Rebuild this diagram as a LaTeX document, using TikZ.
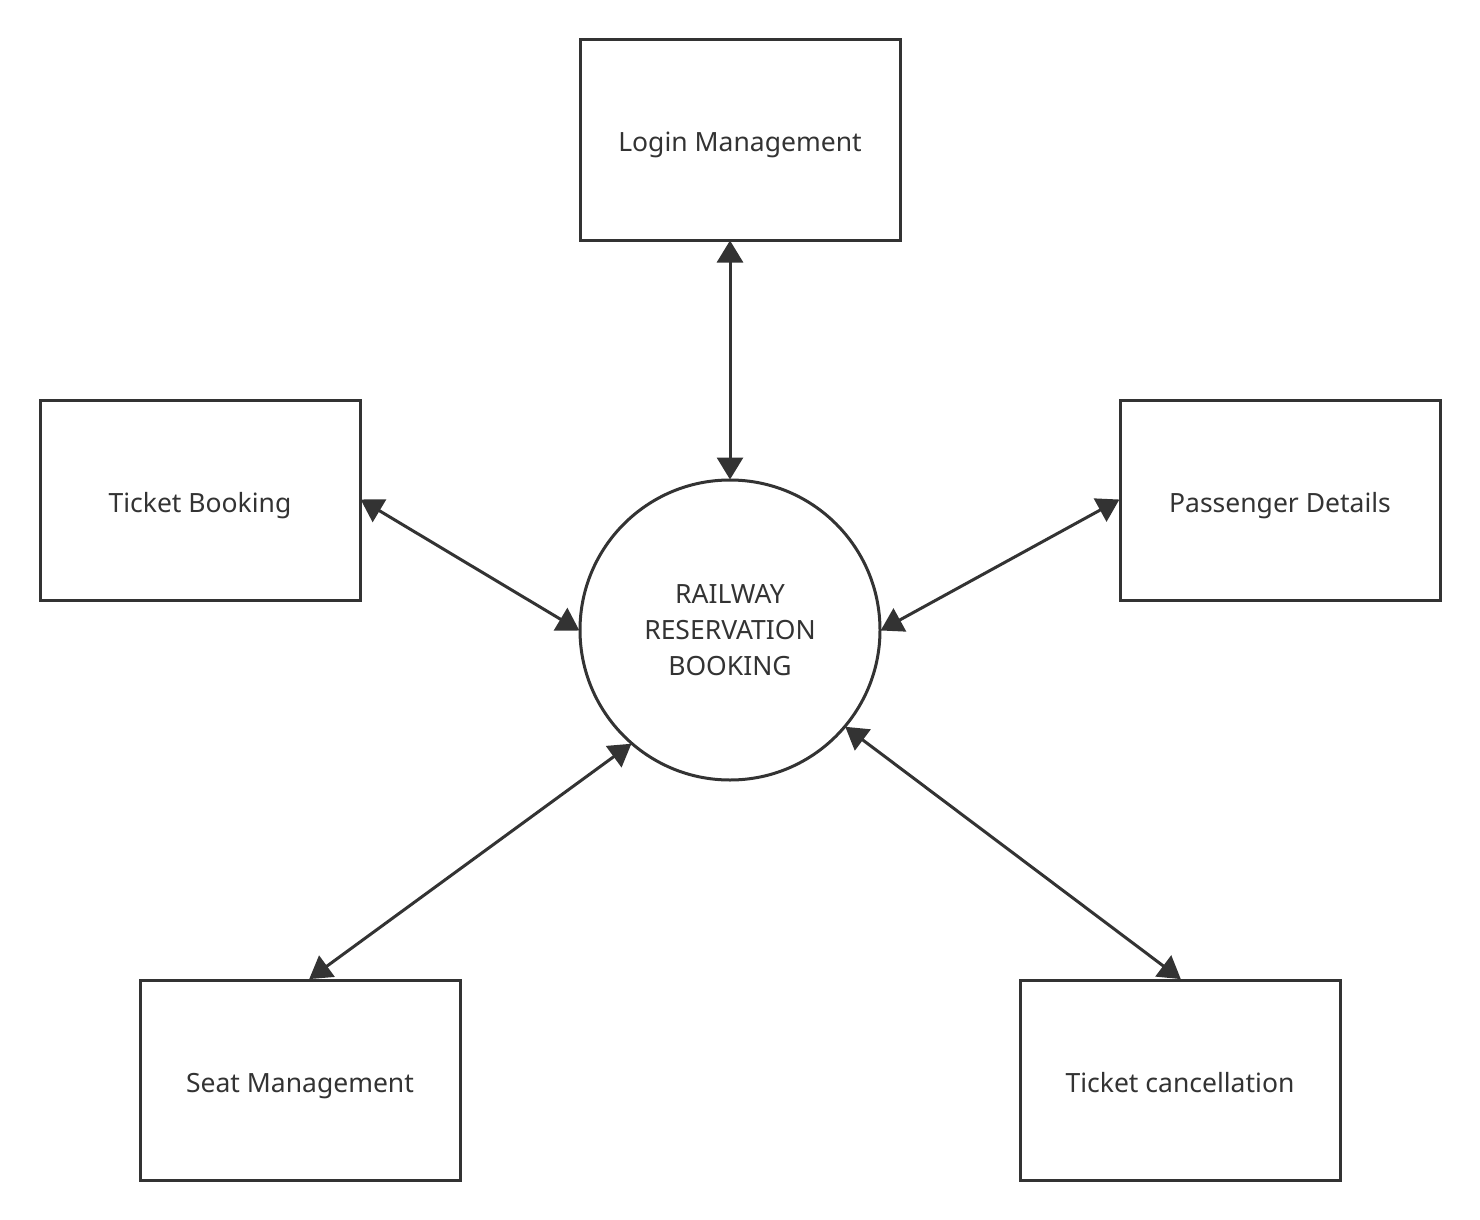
\documentclass[tikz,border=0pt]{standalone}
\usepackage{fontspec}
\setmainfont{Noto Sans}
\usetikzlibrary{arrows.meta,calc}
\definecolor{ink}{HTML}{333333}
\begin{document}
\begin{tikzpicture}[x=1pt,y=-1pt,
  box/.style={draw=ink,line width=3pt,minimum width=320pt,minimum height=200pt,inner sep=0pt,text=ink,text height=24pt,text depth=0pt,font=\fontsize{26.5}{36}\selectfont},
  hub/.style={draw=ink,line width=3pt,circle,minimum size=300pt,inner sep=0pt,text=ink,align=center,font=\fontsize{26.5}{36}\selectfont},
  link/.style={draw=ink,line width=3pt,{Triangle[length=22pt,width=26pt]}-{Triangle[length=22pt,width=26pt]},shorten <=-1pt,shorten >=-1pt}]
\useasboundingbox (0,0) rectangle (1480,1220);
\node[box] (login) at (740,140) {Login Management};
\node[box] (book) at (200,500) {Ticket Booking};
\node[box] (pass) at (1280,500) {Passenger Details};
\node[box] (seat) at (300,1080) {Seat Management};
\node[box] (cancel) at (1180,1080) {Ticket cancellation};
\node[hub] (hub) at (730,630) {RAILWAY\\RESERVATION\\BOOKING};
\draw[link] (login.south -| hub.north) -- (hub.north);
\draw[link] (book.east) -- (hub.west);
\draw[link] (pass.west) -- (hub.east);
\draw[link] ([xshift=10pt]seat.north) -- (hub.229);
\draw[link] (cancel.north) -- (hub.-40);
\end{tikzpicture}
\end{document}
